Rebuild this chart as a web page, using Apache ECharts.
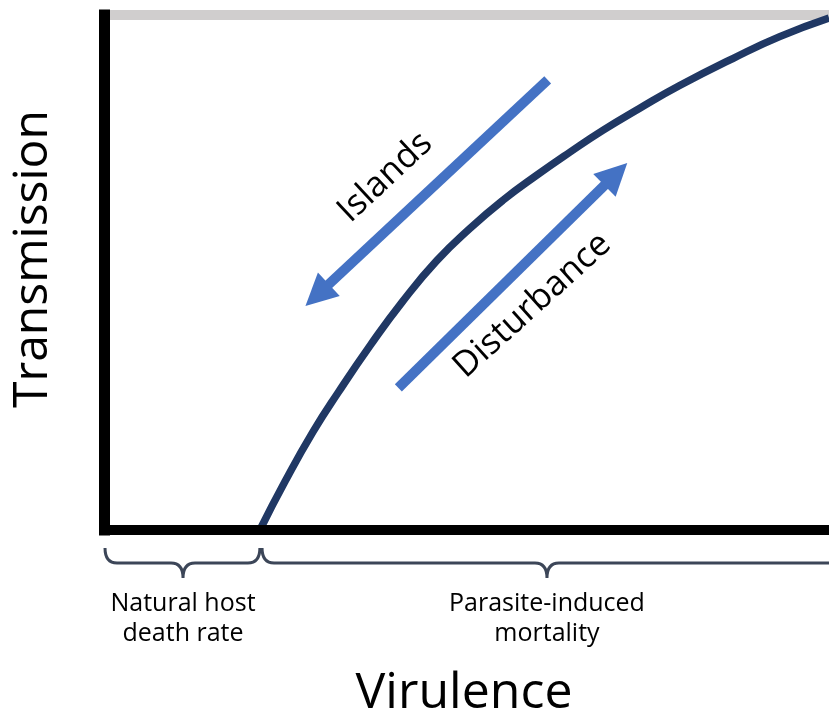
<!DOCTYPE html>
<html>
<head>
<meta charset="utf-8">
<script src="https://cdn.jsdelivr.net/npm/echarts@6/dist/echarts.min.js"></script>
<style>
html, body { margin: 0; padding: 0; background: #fff; }
#main { width: 829px; height: 717px; }
</style>
</head>
<body>
<div id="main"></div>
<script>
// trade-off curve, virulence (x) vs transmission (y), both on a 0-100 scale
var curveX = [21.5, 25.0, 28.8, 32.3, 36.7, 41.2, 45.9, 50.5, 55.0, 59.7, 64.3, 68.8, 73.9, 79.4, 86.8, 93.2, 100];
var curveY = [0, 9.5, 19.0, 26.7, 35.8, 44.4, 52.3, 58.6, 64.0, 68.9, 73.4, 77.6, 81.9, 86.3, 91.6, 95.8, 99.4];

// arrows: [tail, head]
var islandsArrow = [[61.2, 87.4], [29.4, 45.6]];
var disturbanceArrow = [[40.6, 27.6], [70.6, 69.1]];
var arrowLabels = ['Islands', 'Disturbance'];
var arrowLabelAt = [[38.8, 68.5], [59.1, 43.6]];

// braces under the x axis: start, tip, end
var braceStart = [0.14, 21.8];
var braceMid = [10.9, 61.1];
var braceEnd = [21.5, 103];
var braceLabels = ['Natural host\ndeath rate', 'Parasite-induced\nmortality'];

var axisNames = ['Virulence', 'Transmission'];

var font = "'Open Sans', sans-serif";
var chart = echarts.init(document.getElementById('main'));

var curve = curveX.map(function (x, i) { return [x, curveY[i]]; });
var braces = braceStart.map(function (s, i) { return [s, braceMid[i], braceEnd[i], i]; });

function arrowSeries(coords) {
    return {
        type: 'lines',
        coordinateSystem: 'cartesian2d',
        polyline: false,
        silent: true,
        symbol: ['none', 'triangle'],
        symbolSize: 32,
        lineStyle: { color: '#4472c4', width: 10, opacity: 1, curveness: 0 },
        data: [{ coords: coords }],
        z: 3
    };
}

function axis(o) {
    var a = {
        type: 'value', min: 0, max: 100,
        axisTick: { show: false },
        axisLabel: { show: false },
        splitLine: { show: false }
    };
    for (var k in o) a[k] = o[k];
    return a;
}

// curly brace lying flat, tip pointing down
function bracePath(x1, xm, x2, y0) {
    var y1 = y0 + 15, y2 = y0 + 30, r = 12;
    return 'M' + x1 + ',' + y0 +
        ' Q' + x1 + ',' + y1 + ' ' + (x1 + r) + ',' + y1 +
        ' L' + (xm - r) + ',' + y1 +
        ' Q' + xm + ',' + y1 + ' ' + xm + ',' + y2 +
        ' Q' + xm + ',' + y1 + ' ' + (xm + r) + ',' + y1 +
        ' L' + (x2 - r) + ',' + y1 +
        ' Q' + x2 + ',' + y1 + ' ' + x2 + ',' + y0;
}

function renderBrace(params, api) {
    var a = api.coord([api.value(0), 0]);
    var m = api.coord([api.value(1), 0]);
    var b = api.coord([api.value(2), 0]);
    var y0 = a[1] + 18;
    return {
        type: 'group',
        children: [{
            type: 'path',
            shape: { pathData: bracePath(a[0], m[0], b[0], y0) },
            style: { fill: 'none', stroke: '#3c4658', lineWidth: 3 }
        }, {
            type: 'text',
            x: m[0], y: y0 + 41,
            style: {
                text: braceLabels[api.value(3)], font: '25px ' + font, fill: '#000',
                align: 'center', verticalAlign: 'top', lineHeight: 30
            }
        }]
    };
}

chart.setOption({
    animation: false,
    grid: { left: 104, right: 0, top: 15, bottom: 187 },
    xAxis: [
        axis({ position: 'bottom', z: 4,
            axisLine: { lineStyle: { color: '#000', width: 10, cap: 'square' } } }),
        axis({ position: 'top', z: 1,
            axisLine: { lineStyle: { color: '#d0cece', width: 10, cap: 'butt' } } })
    ],
    yAxis: axis({ z: 5,
        axisLine: { lineStyle: { color: '#000', width: 11, cap: 'square' } } }),
    series: [
        {
            type: 'line',
            data: curve,
            smooth: 0.5,
            symbol: 'none',
            lineStyle: { color: '#203864', width: 7.5 },
            z: 3
        },
        arrowSeries(islandsArrow),
        arrowSeries(disturbanceArrow),
        {
            type: 'custom',
            silent: true,
            clip: false,
            data: braces,
            dimensions: ['start', 'mid', 'end', 'label'],
            encode: { x: [0, 1, 2] },
            renderItem: renderBrace
        }
    ]
});

function px(p) { return chart.convertToPixel({ gridIndex: 0 }, p); }

var graphics = [];
arrowLabels.forEach(function (t, i) {
    var p = px(arrowLabelAt[i]);
    graphics.push({
        type: 'text',
        x: p[0], y: p[1],
        rotation: (i === 0 ? 43 : 42) * Math.PI / 180,
        style: {
            text: t, font: '35px ' + font, fill: '#000',
            align: 'center', verticalAlign: 'middle'
        }
    });
});

graphics.push({
    type: 'text',
    x: 464, y: 694,
    style: { text: axisNames[0], font: '50px ' + font, fill: '#000', align: 'center', verticalAlign: 'middle' }
});
graphics.push({
    type: 'text',
    x: 33, y: 259,
    rotation: Math.PI / 2,
    style: { text: axisNames[1], font: '48px ' + font, fill: '#000', align: 'center', verticalAlign: 'middle' }
});

chart.setOption({ graphic: graphics });
</script>
</body>
</html>
